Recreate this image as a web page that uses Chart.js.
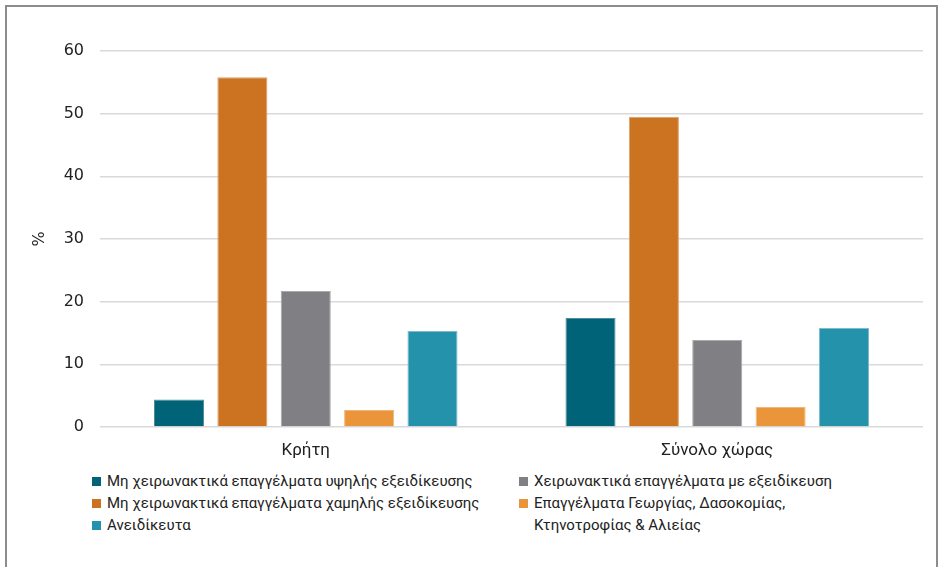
<!DOCTYPE html>
<html lang="el">
<head>
<meta charset="UTF-8" />
<title>Επαγγέλματα – Κρήτη και σύνολο χώρας</title>
<script src="https://cdn.jsdelivr.net/npm/chart.js"></script>
<style>
  html, body { margin: 0; padding: 0; background: #fff; }
  body { width: 945px; height: 567px; position: relative; overflow: hidden; font-family: Roboto, sans-serif; }
  #frame { position: absolute; left: 5px; top: 5px; width: 933px; height: 600px; border: 2px solid #8c8c8c; box-sizing: border-box; }
  #wrap { position: absolute; left: 0; top: 0; width: 945px; height: 470px; }
  #legend { position: absolute; left: 0; top: 470px; width: 945px; font-size: 15px; color: #222; }
  .item { position: absolute; display: flex; align-items: flex-start; line-height: 22px; }
  .box { width: 9px; height: 9px; margin-top: 7px; margin-right: 6px; flex: none; }
</style>
</head>
<body>
<div id="frame"></div>
<div id="wrap"><canvas id="chart" width="945" height="470"></canvas></div>
<div id="legend"></div>

<script>
const categories = ['Κρήτη', 'Σύνολο χώρας'];
const seriesNames = [
  'Μη χειρωνακτικά επαγγέλματα υψηλής εξειδίκευσης',
  'Μη χειρωνακτικά επαγγέλματα χαμηλής εξειδίκευσης',
  'Χειρωνακτικά επαγγέλματα με εξειδίκευση',
  'Επαγγέλματα Γεωργίας, Δασοκομίας, Κτηνοτροφίας & Αλιείας',
  'Ανειδίκευτα'
];
const highSkill = [4.4, 17.4];
const lowSkill = [55.8, 49.5];
const manualSkilled = [21.7, 13.9];
const agriculture = [2.7, 3.2];
const unskilled = [15.3, 15.8];
const yTicks = [0, 10, 20, 30, 40, 50, 60];
const colors = ['#006378', '#cc7322', '#808084', '#eb953a', '#2592ac'];
const borders = ['#4f8e9c', '#dca06a', '#a9a9ac', '#f1b77a', '#7fbccb'];

const values = [highSkill, lowSkill, manualSkilled, agriculture, unskilled];

new Chart(document.getElementById('chart'), {
  type: 'bar',
  data: {
    labels: categories,
    datasets: values.map((v, i) => ({
      label: seriesNames[i],
      data: v,
      backgroundColor: colors[i],
      borderColor: borders[i],
      borderWidth: 1,
      categoryPercentage: 0.77,
      barPercentage: 0.79
    }))
  },
  options: {
    responsive: false,
    animation: false,
    layout: { padding: { left: 26, right: 22, top: 51, bottom: 0 } },
    plugins: { legend: { display: false }, tooltip: { enabled: false } },
    scales: {
      x: {
        grid: { display: false },
        border: { display: false },
        ticks: { color: '#222', font: { family: 'Roboto', size: 17 }, padding: 6 },
        afterFit: s => { s.height = 43; }
      },
      y: {
        min: 0, max: 60,
        afterBuildTicks: s => { s.ticks = yTicks.map(v => ({ value: v })); },
        grid: { color: '#d9d9d9', lineWidth: 1.5, drawTicks: false },
        border: { display: false },
        ticks: { color: '#222', font: { family: 'DejaVu Sans', size: 16 }, padding: 16 },
        title: { display: true, text: '%', color: '#222', font: { family: 'DejaVu Sans', size: 16 }, padding: 4 },
        afterFit: s => { s.width = 74; }
      }
    }
  }
});

// legend: two columns, as in the reference
const legendPos = [[92, 0], [92, 22], [519, 0], [519, 22], [92, 44]];
const legendText = [seriesNames[0], seriesNames[1], seriesNames[2], 'Επαγγέλματα Γεωργίας, Δασοκομίας,<br>Κτηνοτροφίας &amp; Αλιείας', seriesNames[4]];
const leg = document.getElementById('legend');
legendPos.forEach((p, i) => {
  const d = document.createElement('div');
  d.className = 'item';
  d.style.left = p[0] + 'px';
  d.style.top = p[1] + 'px';
  d.innerHTML = '<span class="box" style="background:' + colors[i] + '"></span><span>' + legendText[i] + '</span>';
  leg.appendChild(d);
});
</script>
</body>
</html>
